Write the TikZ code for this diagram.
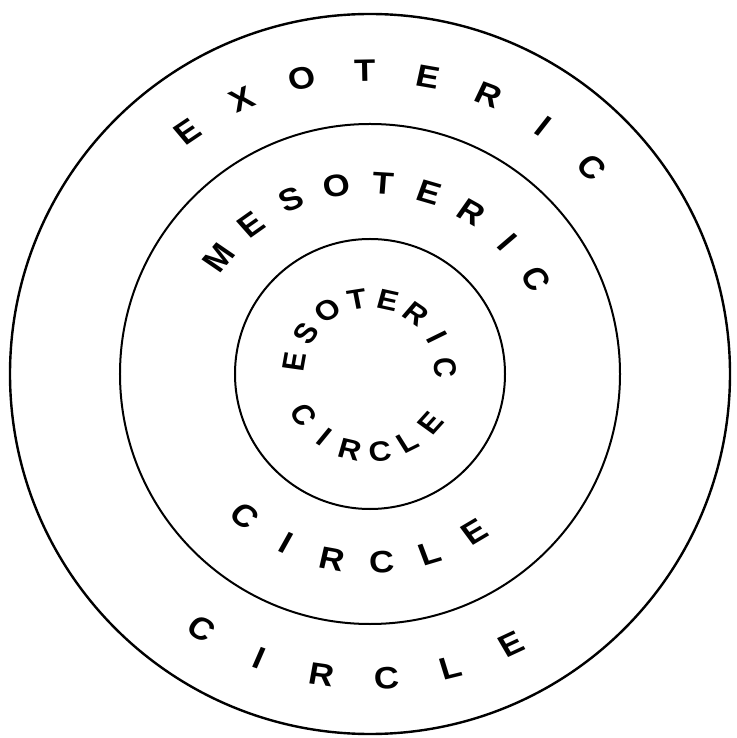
\documentclass[tikz,border=0pt]{standalone}
\usepackage{fontspec}
\setmainfont{Liberation Sans}

\begin{document}
\begin{tikzpicture}[
  x=0.5pt, y=0.5pt,
  ring/.style={draw, line width=1pt},
  letter/.style={inner sep=0pt, xscale=1.12, font=\fontsize{15.5}{15.5}\selectfont\bfseries},
  smallletter/.style={letter, font=\fontsize{14}{14}\selectfont\bfseries}
]
\useasboundingbox (-370,-364) rectangle (367,374);
\coordinate (centre) at (0,0);
\draw[ring, line width=1.2pt] (centre) circle[radius=360];
\draw[ring] (centre) circle[radius=250];
\draw[ring] (centre) circle[radius=135];

\foreach \ch [count=\i, evaluate=\i as \a using 127-12*(\i-1)] in {E,X,O,T,E,R,I,C}
  \node[letter, rotate=\a-90] (exo\i) at (\a:303) {\ch};
\foreach \ch [count=\i, evaluate=\i as \a using -123.5+12.2*(\i-1)] in {C,I,R,C,L,E}
  \node[letter, rotate=\a+90] (exocirc\i) at (\a:305) {\ch};

\foreach \ch [count=\i, evaluate=\i as \a using 142.5-14.1*(\i-1)] in {M,E,S,O,T,E,R,I,C}
  \node[letter, rotate=\a-90] (meso\i) at (\a:191) {\ch};
\foreach \ch [count=\i, evaluate=\i as \a using -131.5+15*(\i-1)] in {C,I,R,C,L,E}
  \node[letter, rotate=\a+90] (mesocirc\i) at (\a:189) {\ch};

\foreach \ch [count=\i, evaluate=\i as \a using 171-23.7*(\i-1)] in {E,S,O,T,E,R,I,C}
  \node[smallletter, rotate=\a-90] (eso\i) at (\a:76) {\ch};
\foreach \ch [count=\i, evaluate=\i as \a using -148+21.8*(\i-1)] in {C,I,R,C,L,E}
  \node[smallletter, rotate=\a+90] (esocirc\i) at (\a:78) {\ch};
\end{tikzpicture}
\end{document}
